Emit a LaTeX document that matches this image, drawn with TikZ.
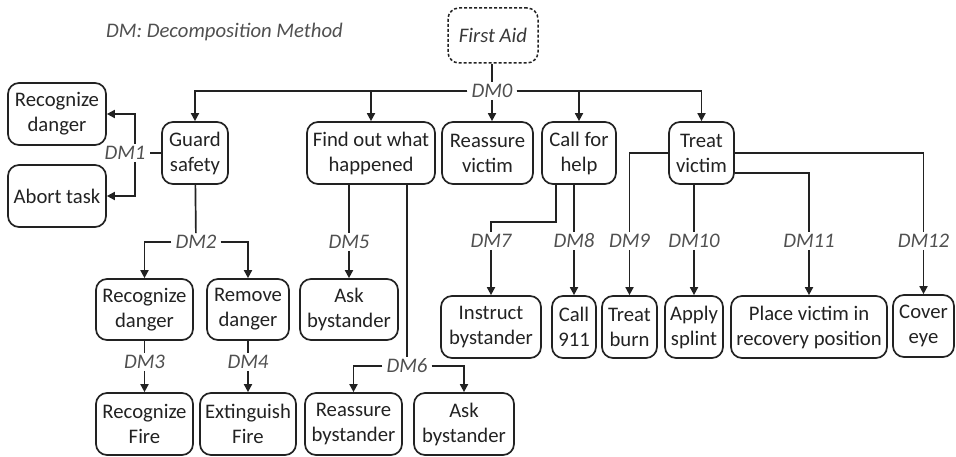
\documentclass[tikz,border=0pt]{standalone}
\usepackage{fontspec}
\setmainfont{Carlito}
\usetikzlibrary{arrows.meta,calc}
\definecolor{ink}{HTML}{222222}
\definecolor{dmgray}{HTML}{505050}
\tikzset{
  task/.style={draw=ink, line width=1.7pt, rounded corners=11pt, align=center,
    inner sep=0pt, text=ink, font=\fontsize{20.7}{25}\selectfont},
  goal/.style={task, line width=1.5pt, dash pattern=on 3pt off 2pt,
    font=\fontsize{20.7}{25}\selectfont\itshape, text=ink!90},
  dmlabel/.style={text=dmgray, inner xsep=4pt, inner ysep=2pt,
    font=\fontsize{20.7}{25}\selectfont\itshape},
  link/.style={draw=ink, line width=1.7pt},
  arr/.style={link, -{Triangle[length=8pt,width=8pt]}},
}
\newcommand{\taskbox}[6]{% name, cx, cy, width, height, text
  \node[task, minimum width=#4pt, minimum height=#5pt] (#1) at (#2,#3) {#6};}
\begin{document}
\begin{tikzpicture}[x=1pt,y=-1pt]
\useasboundingbox (0,0) rectangle (956,457);

% legend
\node[dmlabel, anchor=west, inner xsep=0pt] (legend) at (106,32) {DM: Decomposition Method};

% root goal
\node[goal, minimum width=90pt, minimum height=55pt] (fa) at (493,35.5) {First Aid};

% first level
\taskbox{guard}{195}{153}{66}{62}{Guard\\safety}
\taskbox{findout}{371}{153}{128}{62}{Find out what\\happened}
\taskbox{reassure}{487.5}{153}{91}{62}{Reassure\\victim}
\taskbox{callhelp}{579}{153}{74}{62}{Call for\\help}
\taskbox{treat}{701.5}{153}{65}{62}{Treat\\victim}

% guard safety branch
\taskbox{recdanger}{57}{114}{98}{62}{Recognize\\danger}
\taskbox{abort}{57}{196}{98}{62}{Abort task}
\taskbox{recdangerb}{144.5}{309.5}{97}{61}{Recognize\\danger}
\taskbox{remove}{248}{309.5}{82}{61}{Remove\\danger}
\taskbox{recfire}{144.5}{424}{97}{62}{Recognize\\Fire}
\taskbox{extinguish}{248}{424}{96}{62}{Extinguish\\Fire}

% find out branch
\taskbox{askone}{349}{309.5}{98}{61}{Ask\\bystander}
\taskbox{reassureby}{353.5}{424}{97}{62}{Reassure\\bystander}
\taskbox{asktwo}{464}{424}{100}{62}{Ask\\bystander}

% call for help branch
\taskbox{instruct}{491}{327}{100}{62}{Instruct\\bystander}
\taskbox{callnine}{574}{327}{44}{62}{Call\\911}

% treat victim branch
\taskbox{treatburn}{629.5}{327}{55}{62}{Treat\\burn}
\taskbox{apply}{694}{327}{58}{62}{Apply\\splint}
\taskbox{place}{809}{327}{156}{62}{Place victim in\\recovery position}
\taskbox{cover}{923.5}{326}{61}{62}{Cover\\eye}

% decomposition labels
\node[dmlabel] (dm0) at (492,91) {DM0};
\node[dmlabel] (dm1) at (125,153) {DM1};
\node[dmlabel] (dm2) at (196,242) {DM2};
\node[dmlabel] (dm3) at (144.5,362) {DM3};
\node[dmlabel] (dm4) at (248,362) {DM4};
\node[dmlabel] (dm5) at (349,242) {DM5};
\node[dmlabel] (dm6) at (407,366) {DM6};
\node[dmlabel] (dm7) at (491,241) {DM7};
\node[dmlabel] (dm8) at (574,241) {DM8};
\node[dmlabel] (dm9) at (629.5,241) {DM9};
\node[dmlabel] (dm10) at (694,241) {DM10};
\node[dmlabel] (dm11) at (809,241) {DM11};
\node[dmlabel] (dm12) at (923.5,241) {DM12};

% DM0
\draw[link] (dm0 |- fa.south) -- (dm0);
\draw[arr] (dm0) -| (guard);
\draw[arr] (dm0) -| (findout);
\draw[arr] (dm0.south) -- (dm0.south |- reassure.north);
\draw[arr] (dm0) -| (callhelp);
\draw[arr] (dm0) -| (treat);

% DM1
\coordinate (dmonebar) at (135,153);
\draw[link] (guard) -- (dm1);
\draw[arr] (dmonebar |- dm1.north) |- (recdanger);
\draw[arr] (dmonebar |- dm1.south) |- (abort);

% DM2 .. DM4
\draw[link] (guard) -- (dm2);
\draw[arr] (dm2) -| (recdangerb);
\draw[arr] (dm2) -| (remove);
\draw[link] (recdangerb) -- (dm3);
\draw[arr] (dm3) -- (recfire);
\draw[link] (remove) -- (dm4);
\draw[arr] (dm4) -- (extinguish);

% DM5, DM6
\draw[link] (dm5 |- findout.south) -- (dm5);
\draw[arr] (dm5) -- (askone);
\draw[link] (dm6 |- findout.south) -- (dm6);
\draw[arr] (dm6) -| (reassureby);
\draw[arr] (dm6) -| (asktwo);

% DM7, DM8
\draw[link] ([xshift=-23pt]callhelp.south) |- ([yshift=10pt]dm7.north) -- (dm7.north);
\draw[arr] (dm7) -- (instruct);
\draw[link] (dm8 |- callhelp.south) -- (dm8);
\draw[arr] (dm8) -- (callnine);

% DM9 .. DM12
\draw[link] (treat.west) -| (dm9);
\draw[arr] (dm9) -- (treatburn);
\draw[link] (dm10 |- treat.south) -- (dm10);
\draw[arr] (dm10) -- (apply);
\draw[link] ([yshift=-20pt]treat.east) -| (dm11);
\draw[arr] (dm11) -- (place);
\draw[link] (treat.east) -| (dm12);
\draw[arr] (dm12) -- (cover);
\end{tikzpicture}
\end{document}
